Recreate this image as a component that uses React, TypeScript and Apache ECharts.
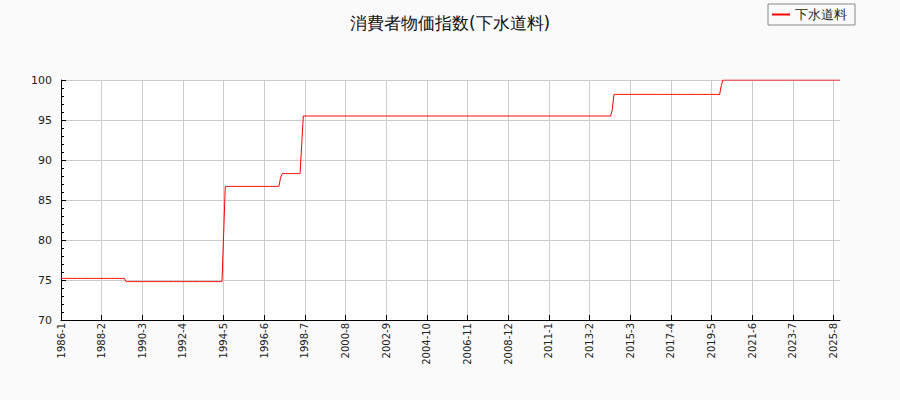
import React, { useEffect, useRef } from 'react';
import * as echarts from 'echarts';

// change points of the monthly index (value holds until the next change)
const changeMonths = ['1986-1', '1989-5', '1994-5', '1994-6', '1997-4', '1997-5', '1998-5', '1998-6', '2014-4', '2014-5', '2019-11', '2019-12'];
const changeValues = [75.2, 74.8, 80.7, 86.7, 87.8, 88.3, 91.9, 95.5, 96.3, 98.2, 99.3, 100.0];
const firstYear = 1986;
const lastYear = 2025;
const yTicks = [70, 75, 80, 85, 90, 95, 100];

const months: string[] = [];
for (let y = firstYear; y <= lastYear; y++) {
  for (let m = 1; m <= 12; m++) months.push(`${y}-${m}`);
}

const values: number[] = [];
{
  let k = 0;
  let current = changeValues[0];
  months.forEach((mo) => {
    if (k < changeMonths.length && changeMonths[k] === mo) {
      current = changeValues[k];
      k++;
    }
    values.push(current);
  });
}

const font = '"DejaVu Sans", sans-serif';

export default function App() {
  const chartRef = useRef<HTMLDivElement>(null);

  useEffect(() => {
    if (!chartRef.current) return;
    const chart = echarts.init(chartRef.current, null, { renderer: 'svg' });

    chart.setOption({
      animation: false,
      backgroundColor: '#fafafa',
      textStyle: { fontFamily: font },
      title: {
        text: '消費者物価指数(下水道料)',
        left: 'center',
        top: 9,
        textStyle: { fontSize: 17, fontWeight: 'normal', color: '#111', fontFamily: font }
      },
      legend: {
        data: ['下水道料'],
        right: 45,
        top: 4,
        orient: 'vertical',
        padding: [4, 8, 4, 4],
        borderColor: '#888',
        borderWidth: 1,
        borderRadius: 0,
        backgroundColor: '#fafafa',
        icon: 'rect',
        itemWidth: 18,
        itemHeight: 2,
        itemGap: 6,
        textStyle: { fontSize: 13, color: '#222', fontFamily: font }
      },
      grid: {
        left: 61,
        right: 60,
        top: 80,
        bottom: 80,
        show: true,
        backgroundColor: '#fff',
        borderWidth: 0
      },
      xAxis: {
        type: 'category',
        data: months,
        boundaryGap: false,
        axisLine: { lineStyle: { color: '#000', width: 1 } },
        axisTick: { show: true, inside: true, length: 5, interval: 24, lineStyle: { color: '#000' } },
        axisLabel: {
          interval: 24,
          rotate: 90,
          fontSize: 10,
          color: '#222',
          margin: 3,
          fontFamily: font
        },
        splitLine: { show: true, interval: 24, lineStyle: { color: '#ccc', width: 1 } }
      },
      yAxis: {
        type: 'value',
        min: yTicks[0],
        max: yTicks[yTicks.length - 1],
        interval: 5,
        axisLine: { show: true, lineStyle: { color: '#000', width: 1 } },
        axisTick: { show: true, inside: true, length: 5, lineStyle: { color: '#000' } },
        minorTick: { show: true, splitNumber: 5, length: 3, lineStyle: { color: '#000' } },
        axisLabel: { fontSize: 11, color: '#222', margin: 9, fontFamily: font },
        splitLine: { show: true, lineStyle: { color: '#ccc', width: 1 } }
      },
      series: [
        {
          name: '下水道料',
          type: 'line',
          data: values,
          showSymbol: false,
          symbol: 'none',
          lineStyle: { color: '#ff0000', width: 1 },
          itemStyle: { color: '#ff0000' }
        }
      ]
    });

    return () => chart.dispose();
  }, []);

  return (
    <div
      ref={chartRef}
      style={{ position: 'absolute', left: 0, top: 0, width: 900, height: 400 }}
    />
  );
}
